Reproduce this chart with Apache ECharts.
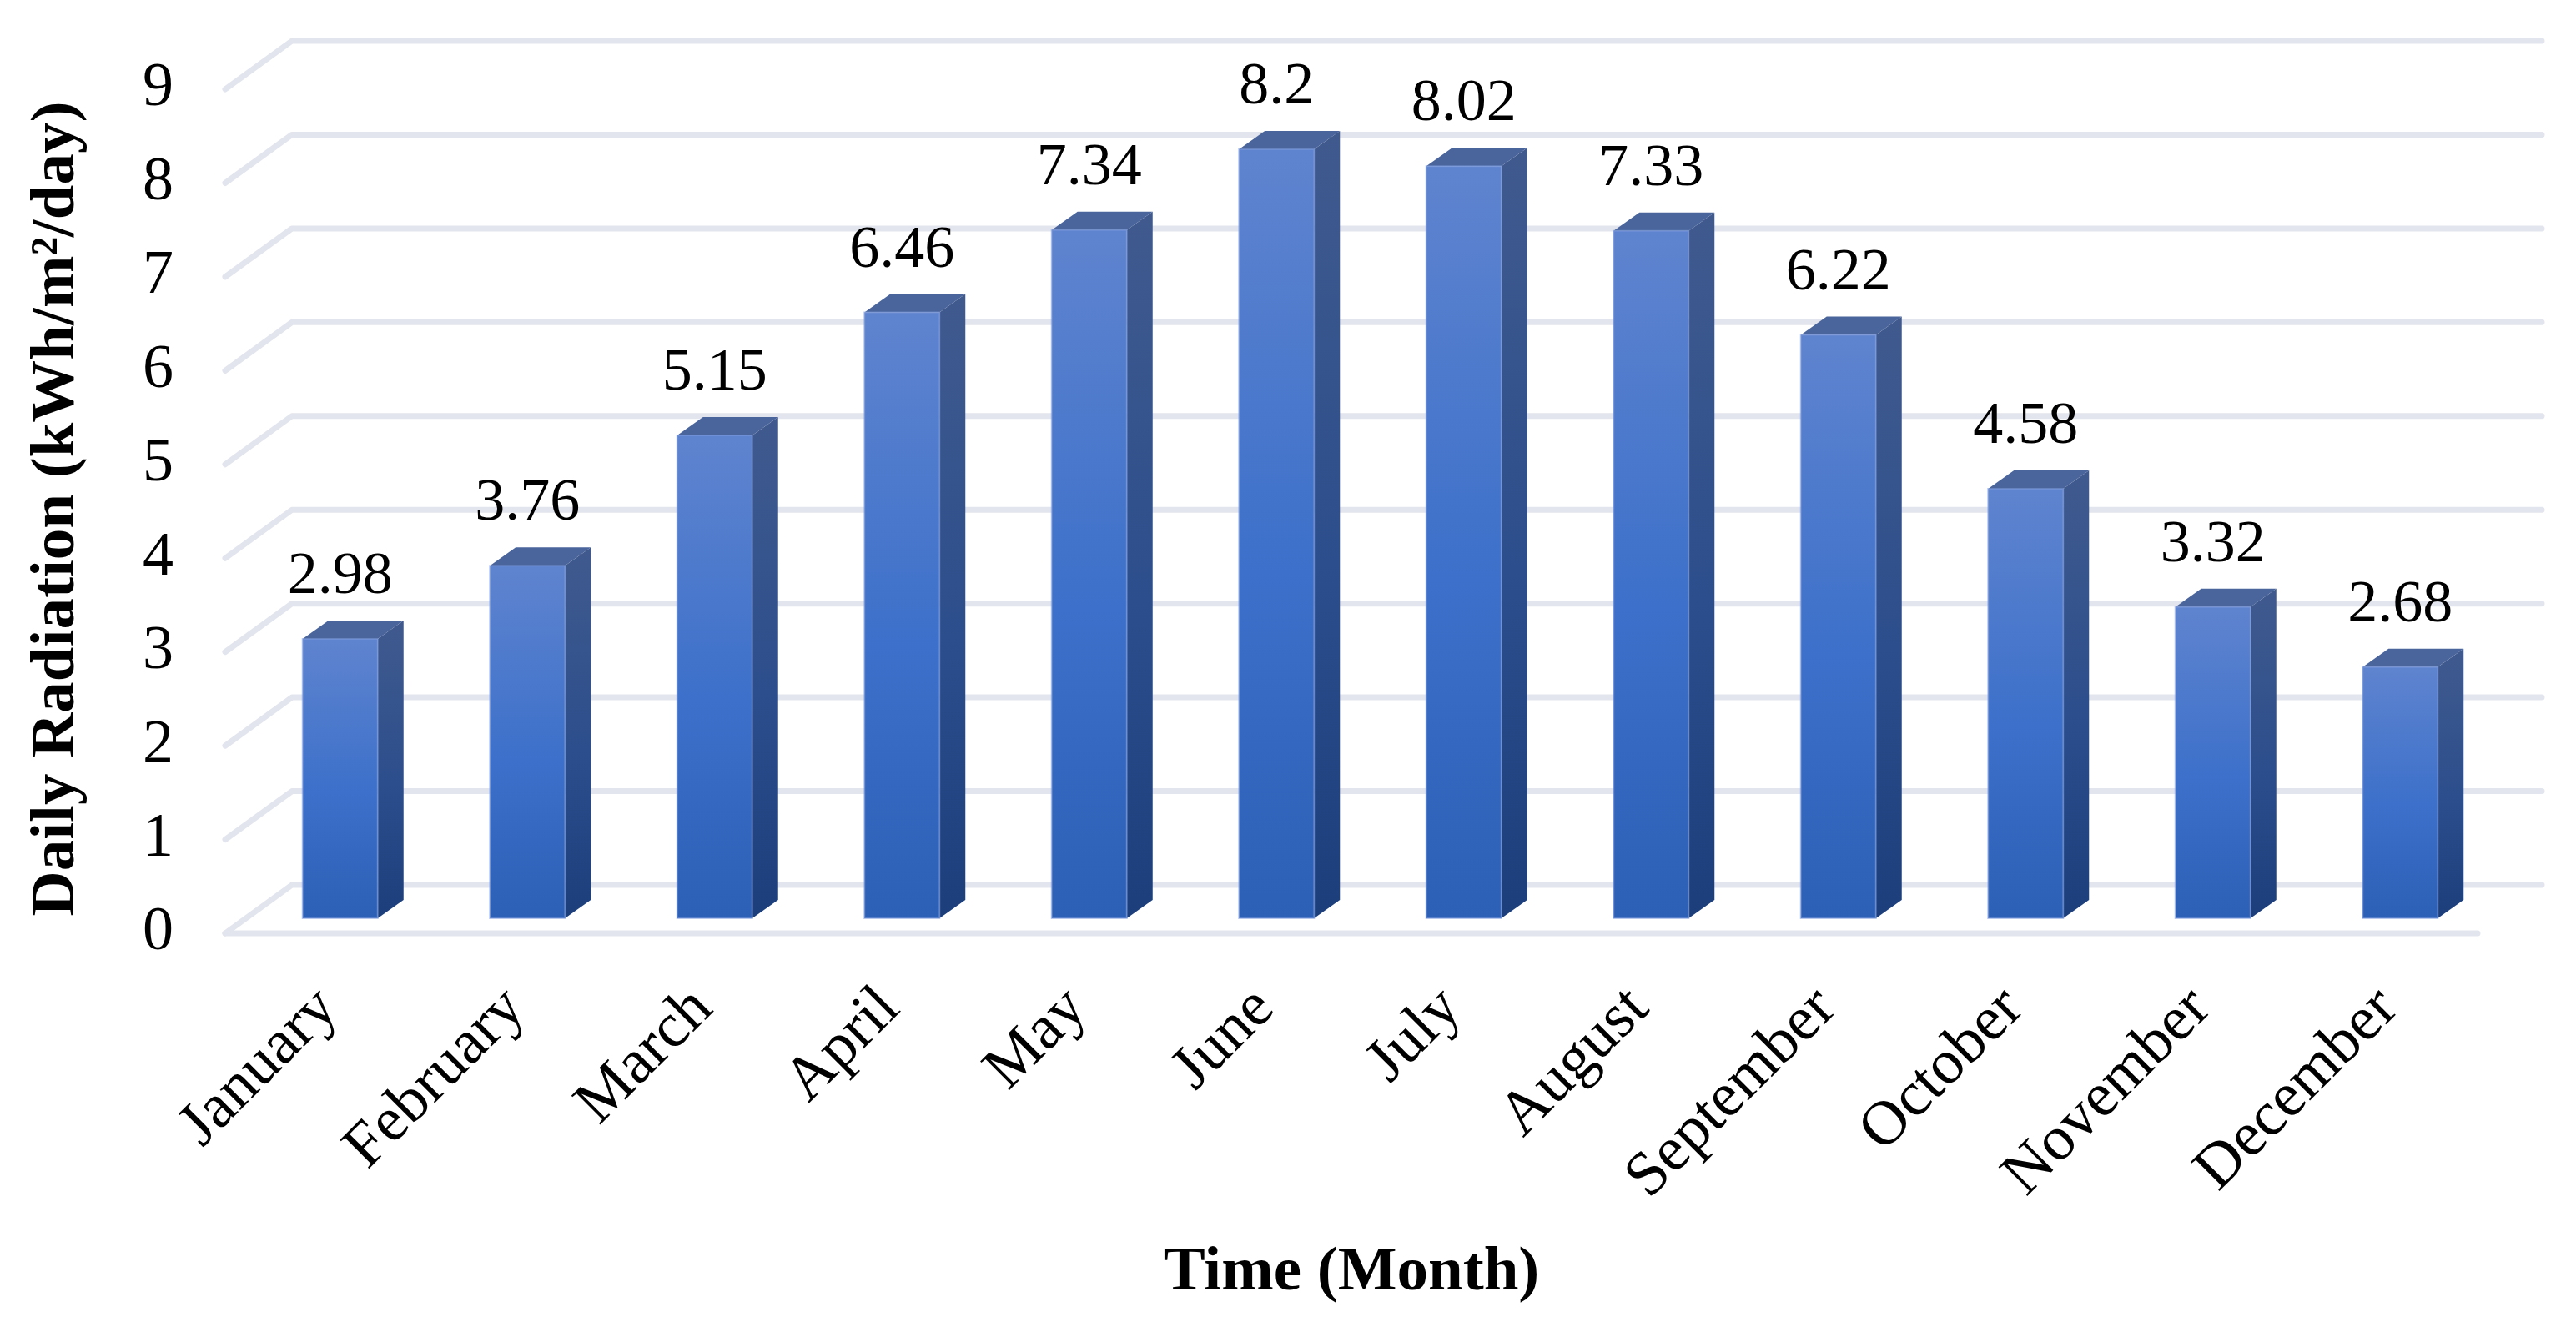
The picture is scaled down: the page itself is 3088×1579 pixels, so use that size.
<!DOCTYPE html>
<html>
<head>
<meta charset="utf-8">
<style>html,body{margin:0;padding:0;background:#fff}#c{width:3088px;height:1579px}</style>
<script src="https://cdn.jsdelivr.net/npm/echarts@6/dist/echarts.min.js"></script>
</head>
<body>
<div id="c"></div>
<script>
const months = ['January','February','March','April','May','June','July','August','September','October','November','December'];
const radiation = [2.98,3.76,5.15,6.46,7.34,8.2,8.02,7.33,6.22,4.58,3.32,2.68];
const yTicks = [0,1,2,3,4,5,6,7,8,9];
const yName = 'Daily Radiation (kWh/m²/day)';
const xName = 'Time (Month)';

const FONT = '"Liberation Serif","Times New Roman",serif';
const chart = echarts.init(document.getElementById('c'), null, {renderer:'canvas'});
const grad = (a,b,c) => ({type:'linear',x:0,y:0,x2:0,y2:1,colorStops:[{offset:0,color:a},{offset:.55,color:b},{offset:1,color:c}]});

function renderWall(params, api){
  const cs = params.coordSys, v = api.value(1), y = api.coord([0,v])[1];
  const L = cs.x, R = cs.x + cs.width, dx = 80, dy = 58;
  const line = {stroke:'#E2E5ED', lineWidth:7, fill:null, lineCap:'round', lineJoin:'round'};
  const ch = [{type:'polyline', shape:{points:[[L,y],[L+dx,y-dy],[R+83,y-dy]]}, style:line}];
  if (v === 0) ch.push({type:'line', shape:{x1:L,y1:y,x2:R+6,y2:y}, style:line});
  return {type:'group', children:ch};
}
function renderBar(params, api){
  const p = api.coord([api.value(0), api.value(1)]);
  const b = api.coord([api.value(0), 0]);
  const w = 90, ox = 25.5, oy = -18, dx = 31, dy = -22;
  const x0 = p[0]+ox-w/2, x1 = x0+w, t = p[1]+oy, bt = b[1]+oy;
  return {type:'group', children:[
    {type:'polygon', shape:{points:[[x1,t],[x1+dx,t+dy],[x1+dx,bt+dy],[x1,bt]]},
      style:{fill:grad('#405A8E','#2C4E8C','#1C3F7C')}},
    {type:'polygon', shape:{points:[[x0,t],[x0+dx,t+dy],[x1+dx,t+dy],[x1,t]]},
      style:{fill:'#4A659C'}},
    {type:'rect', shape:{x:x0,y:t,width:w,height:bt-t},
      style:{fill:grad('#5F84CF','#3C70CA','#2C60B6'), stroke:'rgba(125,155,220,0.55)', lineWidth:2}},
    {type:'text', style:{text:String(api.value(1)), x:x0+w/2, y:t-38, align:'center', verticalAlign:'bottom',
      fontFamily:FONT, fontSize:72, fill:'#000'}}
  ]};
}

chart.setOption({
  animation:false,
  backgroundColor:'#fff',
  grid:{left:270, right:3088-2964, top:107, bottom:1579-1119, outerBoundsMode:'none'},
  xAxis:{type:'category', data:months, boundaryGap:true,
    axisLine:{show:false}, axisTick:{show:false}, splitLine:{show:false},
    axisLabel:{interval:0, rotate:45, margin:90, padding:[0,-16,0,0], fontFamily:FONT, fontSize:75, color:'#000'},
    name:xName, nameLocation:'middle', nameGap:370,
    nameTextStyle:{fontFamily:FONT, fontSize:75, fontWeight:'bold', color:'#000', padding:[0,0,0,6]}},
  yAxis:{type:'value', min:0, max:9, interval:1,
    axisLine:{show:false}, axisTick:{show:false}, splitLine:{show:false},
    axisLabel:{margin:62, padding:[8,0,0,0], fontFamily:FONT, fontSize:74, color:'#000'},
    name:yName, nameLocation:'middle', nameGap:164, nameRotate:90,
    nameTextStyle:{fontFamily:FONT, fontSize:75, fontWeight:'bold', color:'#000', padding:[0,0,0,6]}},
  series:[
    {type:'custom', z:1, clip:false, renderItem:renderWall, encode:{y:1},
      data:yTicks.map(v=>[0,v])},
    {type:'custom', z:2, clip:false, renderItem:renderBar, encode:{x:0,y:1},
      data:radiation.map((v,i)=>[i,v])}
  ]
});
</script>
</body>
</html>
